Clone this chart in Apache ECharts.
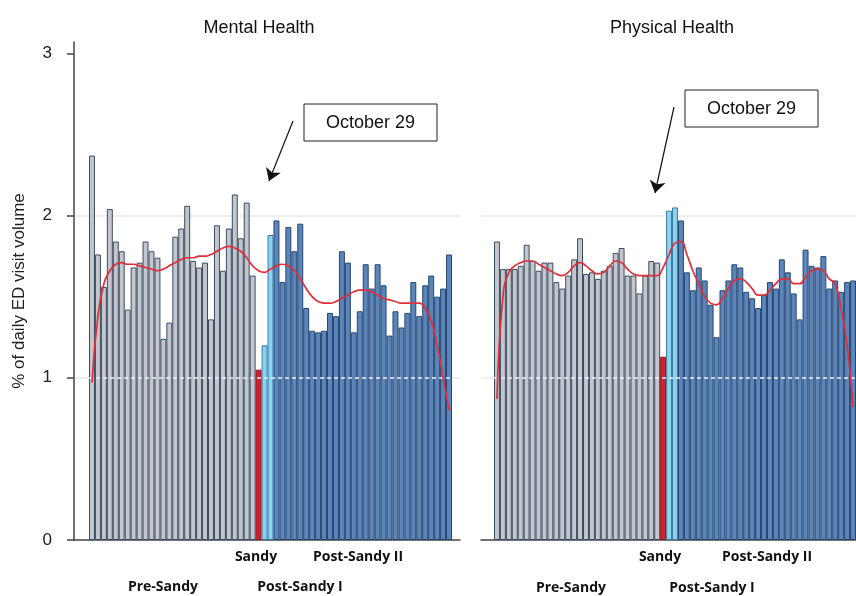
<!DOCTYPE html>
<html>
<head>
<meta charset="utf-8">
<script src="https://cdn.jsdelivr.net/npm/echarts@6.0.0/dist/echarts.min.js"></script>
<style>
  html, body { margin: 0; padding: 0; background: #fff; }
  #chart { width: 856px; height: 596px; }
</style>
</head>
<body>
<div id="chart"></div>
<script>
// days Oct 1 - Nov 30 2012
const months = [['Oct', 31], ['Nov', 30]];
const days = [];
months.forEach(([m, n]) => { for (let d = 1; d <= n; d++) days.push(m + ' ' + d); });

const phaseNames = ['Pre-Sandy', 'Sandy', 'Post-Sandy I', 'Post-Sandy II'];
const phaseLengths = [28, 1, 2, 30];
const phaseFill = ['#c3c7cd', '#d3202c', '#8dd2ef', '#5b86bd'];
const phaseEdge = ['#3c4c62', '#8e1a22', '#3a7aa2', '#284569'];

const panelTitles = ['Mental Health', 'Physical Health'];
const yTicks = [0, 1, 2, 3];

// % of daily ED visit volume, one value per day
const mentalVisits = [
  2.37, 1.76, 1.56, 2.04, 1.84, 1.78, 1.42, 1.68, 1.71, 1.84, 1.78, 1.74, 1.24, 1.34,
  1.87, 1.92, 2.06, 1.72, 1.68, 1.71, 1.36, 1.94, 1.66, 1.92, 2.13, 1.86, 2.08, 1.63,
  1.05,
  1.20, 1.88,
  1.97, 1.59, 1.93, 1.78, 1.95, 1.43, 1.29, 1.28, 1.29, 1.40, 1.38, 1.78, 1.71, 1.28, 1.41,
  1.70, 1.55, 1.70, 1.57, 1.26, 1.41, 1.31, 1.40, 1.59, 1.38, 1.57, 1.63, 1.50, 1.55, 1.76
];
const physicalVisits = [
  1.84, 1.67, 1.67, 1.67, 1.69, 1.82, 1.72, 1.66, 1.71, 1.71, 1.59, 1.55, 1.63, 1.73,
  1.86, 1.64, 1.65, 1.61, 1.66, 1.69, 1.77, 1.80, 1.63, 1.63, 1.52, 1.63, 1.72, 1.71,
  1.13,
  2.03, 2.05,
  1.97, 1.65, 1.54, 1.68, 1.60, 1.45, 1.25, 1.54, 1.60, 1.70, 1.68, 1.53, 1.49, 1.43, 1.51,
  1.59, 1.55, 1.73, 1.65, 1.52, 1.36, 1.79, 1.69, 1.68, 1.75, 1.55, 1.60, 1.53, 1.59, 1.60
];

// smoothed trend (red line)
const mentalTrend = [
  0.97, 1.38, 1.58, 1.66, 1.70, 1.71, 1.70, 1.70, 1.69, 1.68, 1.67, 1.66, 1.67, 1.69,
  1.71, 1.73, 1.74, 1.74, 1.75, 1.75, 1.76, 1.78, 1.80, 1.81, 1.80, 1.78, 1.74, 1.69,
  1.66, 1.65, 1.67, 1.69, 1.70, 1.69, 1.66, 1.61, 1.55, 1.50, 1.47, 1.46, 1.46, 1.47,
  1.49, 1.51, 1.53, 1.54, 1.54, 1.53, 1.51, 1.49, 1.48, 1.47, 1.46, 1.46, 1.46, 1.46,
  1.43, 1.35, 1.20, 1.00, 0.80
];
const physicalTrend = [
  0.87, 1.50, 1.65, 1.69, 1.71, 1.72, 1.72, 1.70, 1.68, 1.66, 1.64, 1.63, 1.65, 1.69,
  1.71, 1.69, 1.66, 1.64, 1.65, 1.69, 1.72, 1.71, 1.67, 1.64, 1.63, 1.63, 1.63, 1.63,
  1.68, 1.76, 1.83, 1.84, 1.76, 1.66, 1.58, 1.50, 1.46, 1.45, 1.49, 1.55, 1.60, 1.61,
  1.59, 1.55, 1.51, 1.51, 1.54, 1.58, 1.61, 1.61, 1.58, 1.58, 1.62, 1.66, 1.67, 1.66,
  1.61, 1.58, 1.42, 1.20, 0.82
];

const phaseOfDay = [];
phaseLengths.forEach((n, p) => { for (let i = 0; i < n; i++) phaseOfDay.push(p); });

const FONT = '"Liberation Sans", Arial, sans-serif';
const LABEL_FONT = '"Open Sans", "Noto Sans", sans-serif';
const Y_MAX = 3.07;

const myChart = echarts.init(document.getElementById('chart'));

function barData(values) {
  return values.map((v, i) => ({
    value: v,
    itemStyle: { color: phaseFill[phaseOfDay[i]], borderColor: phaseEdge[phaseOfDay[i]] }
  }));
}

function frameY(showAxis) {
  return {
    type: 'value', min: 0, max: Y_MAX,
    name: showAxis ? '% of daily ED visit volume' : '',
    nameLocation: 'middle', nameGap: 46,
    nameTextStyle: { fontSize: 17, color: '#222', fontFamily: FONT },
    axisLine: { show: showAxis, lineStyle: { color: '#444', width: 1.5 } },
    axisTick: { show: showAxis, customValues: yTicks, length: 7, lineStyle: { color: '#444', width: 1.5 } },
    axisLabel: { show: showAxis, customValues: yTicks, margin: 22, fontSize: 17, color: '#222', fontFamily: FONT },
    splitLine: { show: true, lineStyle: { color: ['rgba(0,0,0,0)', '#e8e8e8', '#e8e8e8', 'rgba(0,0,0,0)'], width: 1.5 } }
  };
}

function arrow(from, to) {
  return {
    silent: true, symbol: ['none', 'arrow'], symbolSize: 12,
    lineStyle: { color: '#111', width: 1.2, type: 'solid' },
    label: { show: false },
    data: [[{ x: from[0], y: from[1] }, { x: to[0], y: to[1] }]]
  };
}

const oneLine = {
  silent: true, symbol: 'none',
  lineStyle: { color: '#f0f2f5', width: 1.5, type: [4, 3] },
  label: { show: false },
  data: [{ yAxis: 1 }]
};

function phaseText(text, x, y) {
  return {
    type: 'text', x: x, y: y,
    style: { text: text, align: 'center', verticalAlign: 'middle',
      font: 'bold 14px ' + LABEL_FONT, fill: '#111' }
  };
}

function noteBox(x, y, w, h) {
  return [
    { type: 'rect', shape: { x: x, y: y, width: w, height: h },
      style: { fill: '#fff', stroke: '#222', lineWidth: 1 } },
    { type: 'text', x: x + w / 2, y: y + h / 2 + 1,
      style: { text: 'October 29', align: 'center', verticalAlign: 'middle',
        font: '18px ' + FONT, fill: '#111' } }
  ];
}

myChart.setOption({
  animation: false,
  title: [
    { text: panelTitles[0], left: 254, top: 14, textAlign: 'center',
      textStyle: { fontSize: 18, fontWeight: 'normal', color: '#111', fontFamily: FONT } },
    { text: panelTitles[1], left: 667, top: 14, textAlign: 'center',
      textStyle: { fontSize: 18, fontWeight: 'normal', color: '#111', fontFamily: FONT } }
  ],
  grid: [
    { left: 74, right: 396, top: 42, bottom: 56 },
    { left: 89, width: 363, top: 42, bottom: 56 },
    { left: 481, right: 0, top: 42, bottom: 56 },
    { left: 494, width: 362, top: 42, bottom: 56 }
  ],
  xAxis: [
    { gridIndex: 0, type: 'value', min: 0, max: 1,
      axisLine: { lineStyle: { color: '#444', width: 1.5 } },
      axisTick: { show: false }, axisLabel: { show: false }, splitLine: { show: false } },
    { gridIndex: 1, type: 'category', data: days, show: false },
    { gridIndex: 2, type: 'value', min: 0, max: 1,
      axisLine: { lineStyle: { color: '#444', width: 1.5 } },
      axisTick: { show: false }, axisLabel: { show: false }, splitLine: { show: false } },
    { gridIndex: 3, type: 'category', data: days, show: false }
  ],
  yAxis: [
    Object.assign({ gridIndex: 0 }, frameY(true)),
    { gridIndex: 1, type: 'value', min: 0, max: Y_MAX, show: false },
    Object.assign({ gridIndex: 2 }, frameY(false)),
    { gridIndex: 3, type: 'value', min: 0, max: Y_MAX, show: false }
  ],
  series: [
    { type: 'bar', xAxisIndex: 1, yAxisIndex: 1, data: barData(mentalVisits),
      barCategoryGap: '0%', itemStyle: { borderWidth: 1 }, markLine: oneLine },
    { type: 'line', xAxisIndex: 1, yAxisIndex: 1, data: mentalTrend, smooth: true,
      showSymbol: false, lineStyle: { color: '#df2f3a', width: 1.7 }, z: 5,
      markLine: arrow([293, 121], [269, 181]) },
    { type: 'bar', xAxisIndex: 3, yAxisIndex: 3, data: barData(physicalVisits),
      barCategoryGap: '0%', itemStyle: { borderWidth: 1 }, markLine: oneLine },
    { type: 'line', xAxisIndex: 3, yAxisIndex: 3, data: physicalTrend, smooth: true,
      showSymbol: false, lineStyle: { color: '#df2f3a', width: 1.7 }, z: 5,
      markLine: arrow([674, 107], [655, 193]) }
  ],
  graphic: [
    ...noteBox(304, 104, 133, 37),
    ...noteBox(685, 90, 133, 37),
    phaseText(phaseNames[1], 256, 557),
    phaseText(phaseNames[3], 358, 557),
    phaseText(phaseNames[0], 163, 587),
    phaseText(phaseNames[2], 300, 587),
    phaseText(phaseNames[1], 660, 557),
    phaseText(phaseNames[3], 767, 557),
    phaseText(phaseNames[0], 571, 588),
    phaseText(phaseNames[2], 712, 588)
  ]
});
</script>
</body>
</html>
